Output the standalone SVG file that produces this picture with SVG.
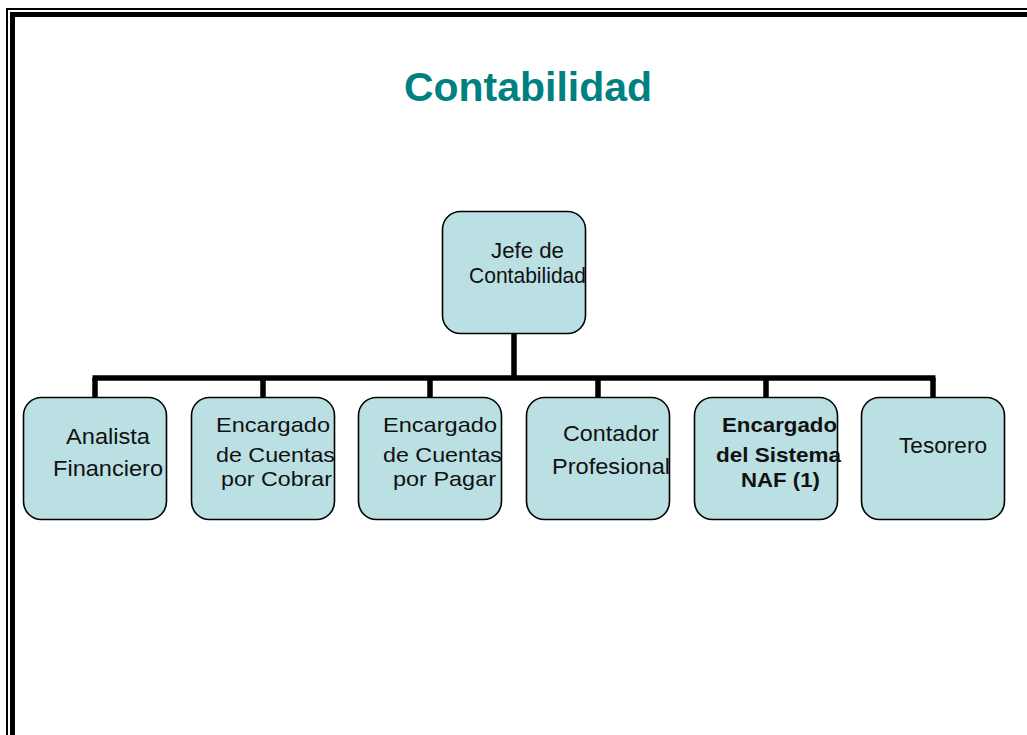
<svg xmlns="http://www.w3.org/2000/svg" width="1027" height="735" viewBox="0 0 1027 735">
  <style>
    .box { fill: #bbe0e3; stroke: #000; stroke-width: 1.6; }
    .lbl { font-family: "Liberation Sans", Arial, sans-serif; font-size: 22px; fill: #111; }
    .tight { font-size: 21px; }
    .bold { font-weight: bold; font-size: 21px; }
    .title { font-family: "Liberation Sans", Arial, sans-serif; font-size: 41px; font-weight: bold; fill: #008080; }
    .wire { fill: none; stroke: #000; stroke-width: 5.5; }
  </style>

  <!-- page frame: thin outer rule and thick inner rule -->
  <g id="frame">
    <rect x="6" y="8" width="2" height="727" fill="#000"/>
    <rect x="6" y="8" width="1021" height="2" fill="#000"/>
    <rect x="10" y="12" width="5" height="723" fill="#000"/>
    <rect x="10" y="12" width="1017" height="5" fill="#000"/>
  </g>

  <text id="title" class="title" x="404" y="101" textLength="248" lengthAdjust="spacingAndGlyphs">Contabilidad</text>

  <!-- connectors -->
  <g id="connectors">
    <path class="wire" d="M514 334 V378"/>
    <path class="wire" d="M92.5 378 H935.5"/>
    <path class="wire" d="M95 378 V398 M263 378 V398 M430 378 V398 M598 378 V398 M766 378 V398 M933 378 V398"/>
  </g>

  <g id="jefe">
    <rect class="box" x="442.5" y="211.5" width="143" height="122" rx="18"/>
    <text class="lbl" x="491" y="258" textLength="73" lengthAdjust="spacingAndGlyphs">Jefe de</text>
    <text class="lbl" x="469" y="283" textLength="117" lengthAdjust="spacingAndGlyphs">Contabilidad</text>
  </g>

  <g id="analista">
    <rect class="box" x="23.5" y="397.5" width="143" height="122" rx="18"/>
    <text class="lbl" x="66" y="444" textLength="84" lengthAdjust="spacingAndGlyphs">Analista</text>
    <text class="lbl" x="53" y="476" textLength="110" lengthAdjust="spacingAndGlyphs">Financiero</text>
  </g>

  <g id="cobrar">
    <rect class="box" x="191.5" y="397.5" width="143" height="122" rx="18"/>
    <text class="lbl tight" x="216" y="432" textLength="114" lengthAdjust="spacingAndGlyphs">Encargado</text>
    <text class="lbl tight" x="216" y="462" textLength="119" lengthAdjust="spacingAndGlyphs">de Cuentas</text>
    <text class="lbl tight" x="221" y="486" textLength="111" lengthAdjust="spacingAndGlyphs">por Cobrar</text>
  </g>

  <g id="pagar">
    <rect class="box" x="358.5" y="397.5" width="143" height="122" rx="18"/>
    <text class="lbl tight" x="383" y="432" textLength="114" lengthAdjust="spacingAndGlyphs">Encargado</text>
    <text class="lbl tight" x="383" y="462" textLength="119" lengthAdjust="spacingAndGlyphs">de Cuentas</text>
    <text class="lbl tight" x="393" y="486" textLength="103" lengthAdjust="spacingAndGlyphs">por Pagar</text>
  </g>

  <g id="contador">
    <rect class="box" x="526.5" y="397.5" width="143" height="122" rx="18"/>
    <text class="lbl" x="563" y="441" textLength="96" lengthAdjust="spacingAndGlyphs">Contador</text>
    <text class="lbl" x="552" y="474" textLength="118" lengthAdjust="spacingAndGlyphs">Profesional</text>
  </g>

  <g id="naf">
    <rect class="box" x="694.5" y="397.5" width="143" height="122" rx="18"/>
    <text class="lbl bold" x="722" y="432" textLength="115" lengthAdjust="spacingAndGlyphs">Encargado</text>
    <text class="lbl bold" x="716" y="462" textLength="125" lengthAdjust="spacingAndGlyphs">del Sistema</text>
    <text class="lbl bold" x="741" y="487" textLength="79" lengthAdjust="spacingAndGlyphs">NAF (1)</text>
  </g>

  <g id="tesorero">
    <rect class="box" x="861.5" y="397.5" width="143" height="122" rx="18"/>
    <text class="lbl" x="899" y="453" textLength="88" lengthAdjust="spacingAndGlyphs">Tesorero</text>
  </g>
</svg>
